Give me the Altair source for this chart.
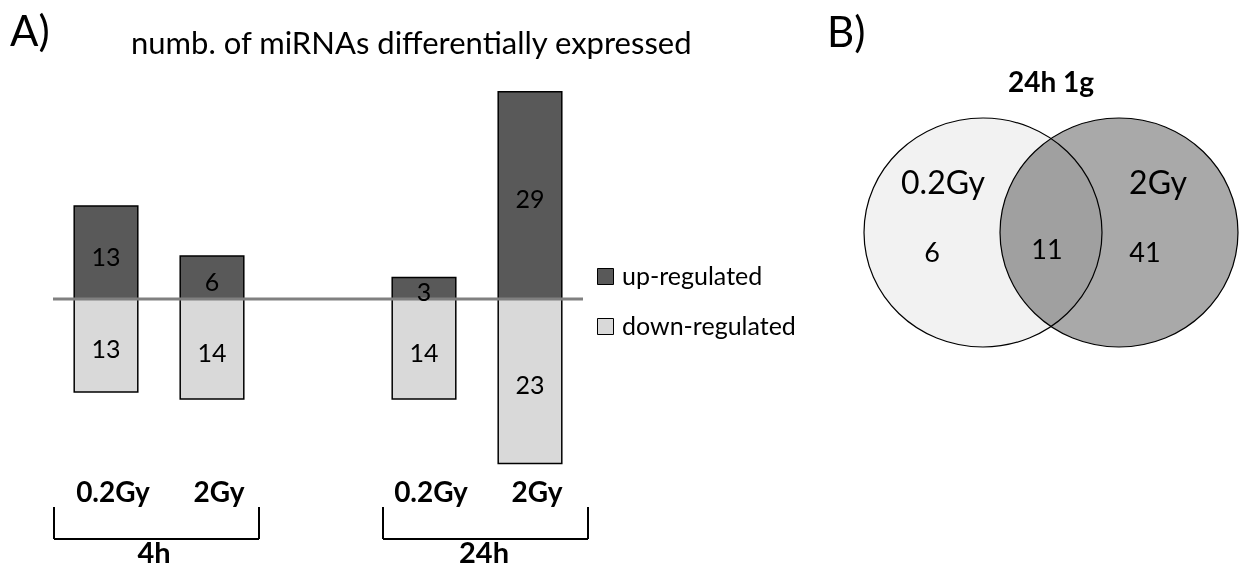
import altair as alt
import pandas as pd

# ---- panel A: miRNA counts per condition ----
times = ["4h", "4h", "24h", "24h"]
doses = ["0.2Gy", "2Gy", "0.2Gy", "2Gy"]
up_counts = [13, 6, 3, 29]
down_counts = [13, 14, 14, 23]
directions = ["up-regulated", "down-regulated"]
time_groups = ["4h", "24h"]

# ---- panel B: overlap at 24h ----
venn_sets = ["0.2Gy", "2Gy"]
venn_only = [6, 41]
venn_shared = [11]

FONT = "Lato"
UP_COLOR, DOWN_COLOR = "#595959", "#d9d9d9"

keys = [f"{t} {d}" for t, d in zip(times, doses)]
slots = keys[:2] + ["spacer"] + keys[2:]

rows = []
for k, d, u, dn in zip(keys, doses, up_counts, down_counts):
    rows.append({"key": k, "dose": d, "direction": directions[0], "count": u, "signed": u})
    rows.append({"key": k, "dose": d, "direction": directions[1], "count": dn, "signed": -dn})
bars_df = pd.DataFrame(rows)
dose_df = pd.DataFrame({"key": keys, "dose": doses})

x_bar = alt.X("key:N", axis=None,
              scale=alt.Scale(domain=slots, range=[53, 583], paddingInner=0.4, paddingOuter=0.2))
y_scale = alt.Scale(domain=[-30, 30], range=[513.5, 84.5], nice=False, zero=False)

bars = alt.Chart(bars_df).mark_bar(stroke="black", strokeWidth=1.5).encode(
    x=x_bar,
    y=alt.Y("signed:Q", scale=y_scale, axis=None),
    y2=alt.datum(0),
    color=alt.Color(
        "direction:N",
        scale=alt.Scale(domain=directions, range=[UP_COLOR, DOWN_COLOR]),
        legend=alt.Legend(
            orient="none", legendX=593, legendY=264, title=None, padding=0,
            symbolType="square", symbolSize=256, symbolStrokeColor="black",
            symbolStrokeWidth=1, labelFont=FONT, labelFontSize=25, labelLimit=400,
            labelColor="black", labelOffset=4, rowPadding=24,
        ),
    ),
)

bar_labels = alt.Chart(bars_df).transform_calculate(
    mid="datum.signed / 2"
).mark_text(font=FONT, fontSize=25, color="black", baseline="middle", dy=5).encode(
    x=x_bar,
    y=alt.Y("mid:Q", scale=y_scale, axis=None),
    text="count:Q",
)

zero_line = alt.Chart(pd.DataFrame({"v": [0]})).mark_rule(color="#808080", strokeWidth=3).encode(
    x=alt.value(53), x2=alt.value(583),
    y=alt.Y("v:Q", scale=y_scale, axis=None),
)

dose_labels = alt.Chart(dose_df).mark_text(
    font=FONT, fontSize=28, fontWeight="bold", color="black", baseline="alphabetic", dx=7
).encode(x=x_bar, y=alt.value(502), text="dose:N")

panel_a = alt.layer(bars, zero_line, bar_labels, dose_labels)


def text_at(label, x, y, size, bold=False, align="left"):
    return alt.Chart(pd.DataFrame({"t": [label]})).mark_text(
        font=FONT, fontSize=size, fontWeight="bold" if bold else "normal",
        color="black", align=align, baseline="alphabetic",
    ).encode(x=alt.value(x), y=alt.value(y), text="t:N")


def rule(x, y, x2=None, y2=None):
    enc = {"x": alt.value(x), "y": alt.value(y)}
    if x2 is not None:
        enc["x2"] = alt.value(x2)
    if y2 is not None:
        enc["y2"] = alt.value(y2)
    return alt.Chart(pd.DataFrame({"_": [0]})).mark_rule(color="black", strokeWidth=2).encode(**enc)


# brackets grouping the doses by time point
brackets = []
for left, right in [(54, 259), (383, 588)]:
    brackets += [rule(left, 507, y2=539), rule(left, 539, x2=right), rule(right, 507, y2=539)]

group_labels = [
    text_at(time_groups[0], 154, 563, 29, bold=True, align="center"),
    text_at(time_groups[1], 484, 563, 29, bold=True, align="center"),
]

# ---- panel B: Venn diagram ----
ellipse = "M-1,0A1,0.962,0,1,1,1,0A1,0.962,0,1,1,-1,0Z"
venn_df = pd.DataFrame({"set": venn_sets, "only": venn_only})

circles = alt.Chart(venn_df).mark_point(
    shape=ellipse, size=238 ** 2, filled=True, opacity=1, stroke="black",
    strokeWidth=1.2, blend="multiply",
).encode(
    x=alt.X("set:N", axis=None,
            scale=alt.Scale(type="point", domain=venn_sets, range=[983, 1119], padding=0)),
    y=alt.value(232.5),
    fill=alt.Fill("set:N", scale=alt.Scale(domain=venn_sets, range=["#f2f2f2", "#a9a9a9"]),
                  legend=None),
)

set_names = alt.Chart(venn_df).mark_text(
    font=FONT, fontSize=32, color="black", baseline="alphabetic"
).encode(
    x=alt.X("set:N", axis=None,
            scale=alt.Scale(type="point", domain=venn_sets, range=[943, 1158], padding=0)),
    y=alt.value(194),
    text="set:N",
)

only_counts = alt.Chart(venn_df).mark_text(
    font=FONT, fontSize=27, color="black", baseline="alphabetic"
).encode(
    x=alt.X("set:N", axis=None,
            scale=alt.Scale(type="point", domain=venn_sets, range=[932, 1145], padding=0)),
    y=alt.value(262),
    text="only:Q",
)

shared_count = alt.Chart(pd.DataFrame({"n": venn_shared})).mark_text(
    font=FONT, fontSize=27, color="black", baseline="alphabetic"
).encode(x=alt.value(1047), y=alt.value(259), text="n:Q")

titles = [
    text_at("A)", 10, 46, 42),
    text_at("numb. of miRNAs differentially expressed", 131, 54, 31),
    text_at("B)", 827, 47, 42),
    text_at("24h 1g", 1051, 92, 28, bold=True, align="center"),
]

chart = alt.layer(
    panel_a, *brackets, *group_labels,
    circles, set_names, only_counts, shared_count, *titles,
).resolve_scale(x="independent", y="independent").properties(
    width=1239, height=568, padding=0,
    autosize=alt.AutoSizeParams(type="none"),
    background="white",
).configure_view(stroke=None)

chart.save("out.html", embed_options={"renderer": "svg", "actions": False})
